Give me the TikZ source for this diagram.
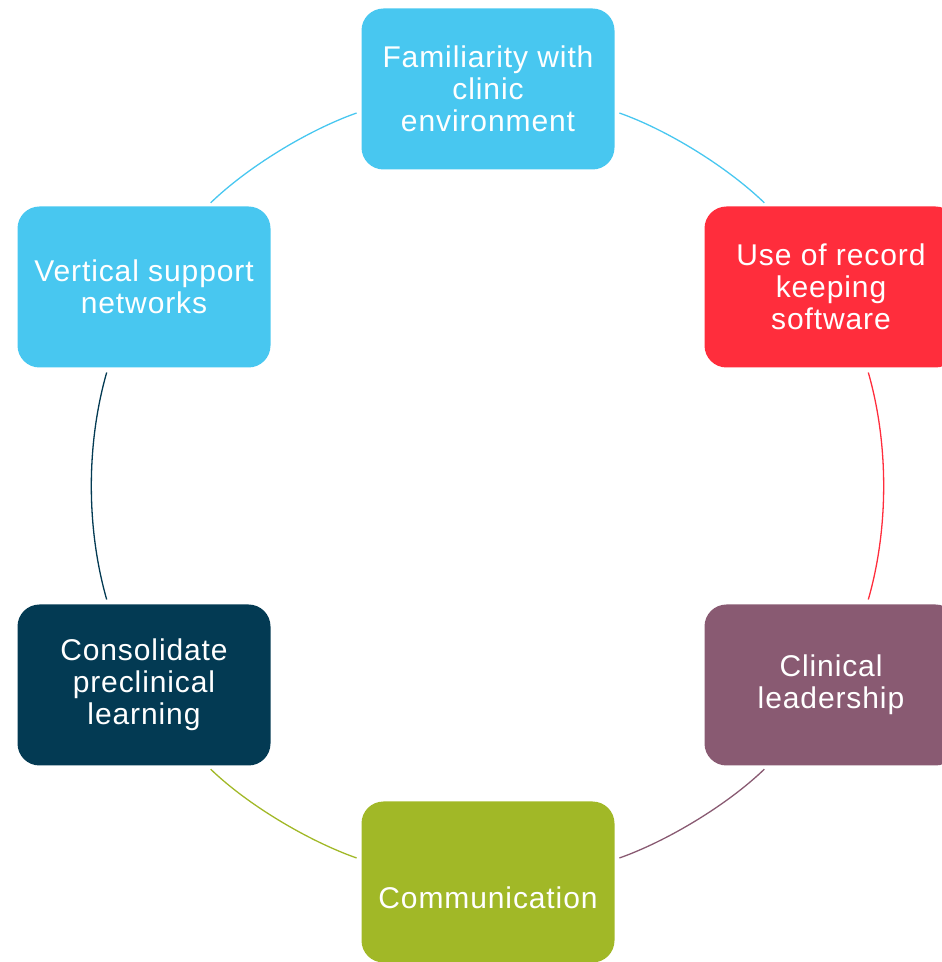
\documentclass[tikz,border=0pt]{standalone}
\usepackage{fontspec}
\setmainfont{Liberation Sans}[LetterSpace=3.0]
\definecolor{cblue}{HTML}{48C7F0}
\definecolor{cred}{HTML}{FF2D3C}
\definecolor{cpurple}{HTML}{895A72}
\definecolor{colive}{HTML}{A1B827}
\definecolor{cnavy}{HTML}{033A53}
\tikzset{
  box/.style={rectangle, rounded corners=22pt, minimum width=253pt, minimum height=161pt,
    inner sep=0pt, text=white, align=center, font=\fontsize{30}{32}\selectfont},
  arcline/.style={line width=1.3pt, shorten <=5pt, shorten >=5pt},
}
\begin{document}
\begin{tikzpicture}[x=1pt,y=1pt]
\useasboundingbox (0,0) rectangle (942,962);
\node[box, fill=cblue]   (top) at (488,873) {Familiarity with\\clinic\\environment};
\node[box, fill=cred]    (rt)  at (831,675) {Use of record\\keeping\\software};
\node[box, fill=cpurple] (rb)  at (831,277) {Clinical\\leadership};
\node[box, fill=colive, text height=54pt, text depth=0pt] (bot) at (488,80) {Communication};
\node[box, fill=cnavy]   (lb)  at (144,277) {Consolidate\\preclinical\\learning};
\node[box, fill=cblue]   (lt)  at (144,675) {Vertical support\\networks};
\draw[arcline, cblue]   (top.-10)  to[out=-19.5, in=136, looseness=0.8] (rt.128);
\draw[arcline, cred]    (rt.-66)   to[out=-74, in=74, looseness=0.86] (rb.66);
\draw[arcline, cpurple] (rb.-128)  to[out=-136, in=19.5, looseness=0.8] (bot.10);
\draw[arcline, colive]  (bot.170)  to[out=160.5, in=-44, looseness=0.8] (lb.-52);
\draw[arcline, cnavy]   (lb.114)   to[out=106, in=-106, looseness=0.86] (lt.-114);
\draw[arcline, cblue]   (lt.52)    to[out=44, in=-160.5, looseness=0.8] (top.190);
\end{tikzpicture}
\end{document}
